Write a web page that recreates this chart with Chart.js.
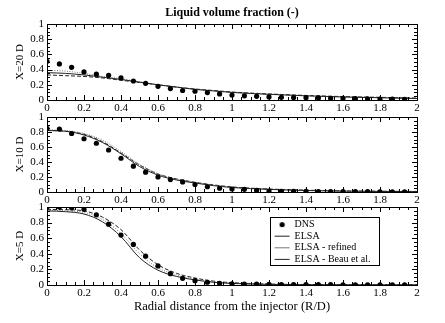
<!DOCTYPE html>
<html><head><meta charset="utf-8">
<script src="https://cdn.jsdelivr.net/npm/chart.js@4"></script>
<style>
html,body{margin:0;padding:0;background:#fff;}
#wrap{position:relative;width:445px;height:323px;background:#fff;}
canvas{position:absolute;left:0;top:0;}
</style></head><body>
<div id="wrap">
<canvas id="c1" width="445" height="323"></canvas>
<canvas id="c2" width="445" height="323"></canvas>
<canvas id="c3" width="445" height="323"></canvas>
</div>
<script>
// ---- data ----
const mainTitle = 'Liquid volume fraction (-)';
const xAxisTitle = 'Radial distance from the injector (R/D)';
const panelLabels = ['X=20 D', 'X=10 D', 'X=5 D'];
const seriesNames = ['DNS', 'ELSA', 'ELSA - refined', 'ELSA - Beau et al.'];
const xTickValues = [0, 0.2, 0.4, 0.6, 0.8, 1, 1.2, 1.4, 1.6, 1.8, 2];
const yTickValues = [0, 0.2, 0.4, 0.6, 0.8, 1];

const dnsR = [0, 0.067, 0.133, 0.2, 0.267, 0.333, 0.4, 0.467, 0.533, 0.6, 0.667, 0.733, 0.8, 0.867, 0.933,
              1.0, 1.067, 1.133, 1.2, 1.267, 1.333, 1.4, 1.467, 1.533, 1.6, 1.667, 1.733, 1.8, 1.867, 1.933];
const dns20 = [0.51, 0.475, 0.43, 0.37, 0.34, 0.325, 0.29, 0.25, 0.22, 0.18, 0.15, 0.125, 0.115, 0.098, 0.08,
               0.065, 0.055, 0.048, 0.04, 0.035, 0.031, 0.03, 0.027, 0.022, 0.022, 0.018, 0.016, 0.013, 0.011, 0.009];
const dns10 = [0.85, 0.84, 0.78, 0.71, 0.65, 0.56, 0.45, 0.345, 0.265, 0.2, 0.166, 0.135, 0.1, 0.07, 0.05,
               0.04, 0.036, 0.022, 0.013, 0.01, 0.01, 0.008, 0.006, 0.005, 0.005, 0.004, 0.004, 0.003, 0.003, 0.003];
const dns5  = [1.0, 1.0, 0.99, 0.97, 0.9, 0.78, 0.64, 0.52, 0.37, 0.245, 0.145, 0.086, 0.055, 0.035, 0.02,
               0.015, 0.01, 0.01, 0.008, 0.006, 0.005, 0.005, 0.004, 0.004, 0.003, 0.003, 0.003, 0.003, 0.003, 0.003];

const lineR = [0, 0.1, 0.2, 0.3, 0.4, 0.5, 0.6, 0.7, 0.8, 0.9, 1.0, 1.2, 1.4, 1.6, 1.8, 2.0];
const elsa20    = [0.36, 0.35, 0.33, 0.30, 0.27, 0.235, 0.20, 0.17, 0.14, 0.12, 0.10, 0.075, 0.055, 0.04, 0.03, 0.02];
const refined20 = [0.39, 0.38, 0.35, 0.31, 0.28, 0.24, 0.20, 0.17, 0.14, 0.12, 0.10, 0.075, 0.055, 0.04, 0.03, 0.02];
const beau20    = [0.33, 0.32, 0.31, 0.29, 0.26, 0.23, 0.20, 0.17, 0.145, 0.125, 0.105, 0.08, 0.06, 0.045, 0.035, 0.025];
const elsa10    = [0.82, 0.81, 0.76, 0.66, 0.51, 0.34, 0.225, 0.16, 0.12, 0.085, 0.06, 0.035, 0.02, 0.012, 0.008, 0.005];
const refined10 = [0.83, 0.82, 0.78, 0.69, 0.54, 0.37, 0.245, 0.17, 0.125, 0.09, 0.062, 0.036, 0.02, 0.012, 0.008, 0.005];
const beau10    = [0.82, 0.81, 0.77, 0.67, 0.52, 0.36, 0.24, 0.175, 0.13, 0.095, 0.068, 0.04, 0.025, 0.015, 0.01, 0.008];
const elsa5     = [0.95, 0.94, 0.91, 0.81, 0.62, 0.35, 0.19, 0.11, 0.065, 0.035, 0.02, 0.008, 0.004, 0.003, 0.002, 0.002];
const refined5  = [0.96, 0.95, 0.93, 0.84, 0.66, 0.40, 0.22, 0.13, 0.075, 0.04, 0.025, 0.01, 0.005, 0.003, 0.002, 0.002];
const beau5     = [0.97, 0.965, 0.95, 0.87, 0.71, 0.45, 0.26, 0.15, 0.09, 0.05, 0.03, 0.012, 0.006, 0.004, 0.003, 0.003];

// ---- rendering ----
Chart.defaults.font.family = "'Liberation Serif', 'Times New Roman', serif";
Chart.defaults.font.size = 11;
Chart.defaults.color = '#000';
Chart.defaults.animation = false;

const fmt = v => String(+Number(v).toFixed(2));

const dotImg = document.createElement('canvas');
dotImg.width = 7; dotImg.height = 7;
(function(){ const c = dotImg.getContext('2d'); c.fillStyle = '#000'; c.beginPath(); c.arc(3.5, 3.5, 2.6, 0, Math.PI*2); c.fill(); })();

const frameTicks = {
  id: 'frameTicks',
  afterDatasetsDraw(chart) {
    const {ctx, chartArea: a, scales: {x, y}} = chart;
    ctx.save();
    ctx.strokeStyle = '#000';
    ctx.lineWidth = 1;
    ctx.beginPath();
    for (let i = 0; i <= 40; i++) {
      const v = i * 0.05, px = Math.round(x.getPixelForValue(v)) + 0.5;
      const len = (i % 4 === 0) ? 5 : 3;
      ctx.moveTo(px, a.bottom); ctx.lineTo(px, a.bottom - len);
      ctx.moveTo(px, a.top); ctx.lineTo(px, a.top + len);
    }
    for (let i = 0; i <= 20; i++) {
      const v = i * 0.05, py = Math.round(y.getPixelForValue(v)) + 0.5;
      const len = (i % 4 === 0) ? 5 : 3;
      ctx.moveTo(a.left, py); ctx.lineTo(a.left + len, py);
      ctx.moveTo(a.right, py); ctx.lineTo(a.right - len, py);
    }
    ctx.stroke();
    ctx.strokeRect(Math.round(a.left) + 0.5, Math.round(a.top) + 0.5, Math.round(a.right - a.left), Math.round(a.bottom - a.top));
    ctx.restore();
  }
};

const legendBox = {
  id: 'legendBox',
  beforeDraw(chart) {
    const lg = chart.legend;
    if (!lg || !lg.options.display) return;
    const w = lg.width, h = lg.height;
    lg.left = 273; lg.top = 218; lg.right = lg.left + w; lg.bottom = lg.top + h;
  },
  afterDraw(chart) {
    const lg = chart.legend;
    if (!lg || !lg.options.display) return;
    const ctx = chart.ctx;
    ctx.save();
    ctx.strokeStyle = '#000'; ctx.lineWidth = 1;
    ctx.strokeRect(270.5, 217.5, 109, 48);
    ctx.restore();
  }
};

function pts(xs, ys) { return xs.map((x, i) => ({x, y: ys[i]})); }

function makePanel(id, cfg) {
  const datasets = [
    {label: seriesNames[0], data: pts(dnsR, cfg.dns), showLine: false, pointRadius: 2.6, pointStyle: 'circle',
     backgroundColor: '#000', borderColor: '#000', borderWidth: 0},
    {label: seriesNames[1], data: pts(lineR, cfg.elsa), showLine: true, pointRadius: 0, pointStyle: 'line',
     borderColor: '#222', borderWidth: 1, cubicInterpolationMode: 'monotone'},
    {label: seriesNames[2], data: pts(lineR, cfg.refined), showLine: true, pointRadius: 0, pointStyle: 'line',
     borderColor: '#777', borderWidth: 1, borderDash: [1, 1.5], cubicInterpolationMode: 'monotone'},
    {label: seriesNames[3], data: pts(lineR, cfg.beau), showLine: true, pointRadius: 0, pointStyle: 'line',
     borderColor: '#222', borderWidth: 1, borderDash: [4, 2], cubicInterpolationMode: 'monotone'}
  ];
  return new Chart(document.getElementById(id), {
    type: 'scatter',
    data: {datasets},
    options: {
      responsive: false,
      animation: false,
      layout: {padding: {left: 0, right: 28, top: cfg.padTop, bottom: cfg.padBottom}},
      plugins: {
        title: cfg.title ? {display: true, text: cfg.title, fullSize: false,
          font: {size: 12, weight: 'bold'}, padding: {top: 6, bottom: 3.6}, color: '#000'} : {display: false},
        legend: cfg.legend ? {
          display: true, position: 'chartArea', align: 'start',
          labels: {
            usePointStyle: true, pointStyleWidth: 15, padding: 1.6, boxHeight: 10,
            font: {size: 10}, color: '#000',
            generateLabels(chart) {
              const items = Chart.defaults.plugins.legend.labels.generateLabels(chart);
              items[0].pointStyle = dotImg;
              return items;
            }
          }
        } : {display: false},
        tooltip: {enabled: false}
      },
      scales: {
        x: {
          type: 'linear', min: 0, max: 2,
          afterFit(s) { s.height = cfg.xHeight; },
          afterBuildTicks(s) { s.ticks = xTickValues.map(v => ({value: v})); },
          ticks: {padding: 2, maxRotation: 0, autoSkip: false, callback: fmt, font: {size: 11}},
          grid: {display: false, drawTicks: false},
          border: {display: false},
          title: cfg.xTitle ? {display: true, text: cfg.xTitle, font: {size: 12.5}, padding: {top: 0, bottom: 8.5}} : {display: false}
        },
        y: {
          min: 0, max: 1,
          afterFit(s) { s.width = 47; },
          afterBuildTicks(s) { s.ticks = yTickValues.map(v => ({value: v})); },
          ticks: {padding: 3, autoSkip: false, callback: fmt, font: {size: 11}},
          grid: {display: false, drawTicks: false},
          border: {display: false},
          title: {display: true, text: cfg.label, font: {size: 11}, padding: {top: 13.4, bottom: 0}}
        }
      }
    },
    plugins: [frameTicks, legendBox]
  });
}

makePanel('c1', {dns: dns20, elsa: elsa20, refined: refined20, beau: beau20, label: panelLabels[0],
  title: mainTitle, padTop: 0, padBottom: 207, xHeight: 16});
makePanel('c2', {dns: dns10, elsa: elsa10, refined: refined10, beau: beau10, label: panelLabels[1],
  padTop: 117, padBottom: 115, xHeight: 16});
makePanel('c3', {dns: dns5, elsa: elsa5, refined: refined5, beau: beau5, label: panelLabels[2],
  padTop: 207, padBottom: 0, xHeight: 38, xTitle: xAxisTitle, legend: true});
</script>
</body></html>
